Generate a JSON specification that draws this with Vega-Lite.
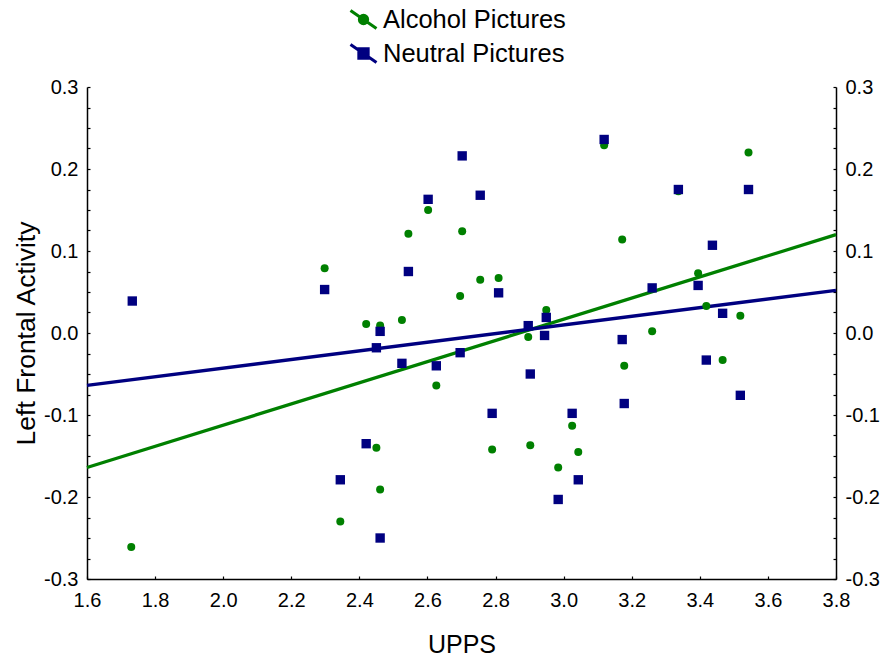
{
  "$schema": "https://vega.github.io/schema/vega-lite/v6.json",
  "width": 749,
  "height": 492,
  "autosize": "none",
  "padding": {"left": 87, "top": 87, "right": 47, "bottom": 79},
  "background": "white",
  "config": {
    "font": "Liberation Sans",
    "view": {"stroke": null},
    "axis": {
      "grid": false,
      "domainColor": "black",
      "domainWidth": 1.5,
      "tickColor": "black",
      "tickWidth": 1.2,
      "labelColor": "black",
      "labelFont": "Liberation Sans",
      "labelFontSize": 20,
      "titleFont": "Liberation Sans",
      "titleFontSize": 25,
      "titleFontWeight": "normal",
      "titleColor": "black"
    }
  },
  "datasets": {
    "points": [
      {"series": "Alcohol Pictures", "upps": 1.730, "lfa": -0.261},
      {"series": "Alcohol Pictures", "upps": 2.298, "lfa": 0.079},
      {"series": "Alcohol Pictures", "upps": 2.420, "lfa": 0.011},
      {"series": "Alcohol Pictures", "upps": 2.461, "lfa": 0.009},
      {"series": "Alcohol Pictures", "upps": 2.525, "lfa": 0.016},
      {"series": "Alcohol Pictures", "upps": 2.544, "lfa": 0.121},
      {"series": "Alcohol Pictures", "upps": 2.602, "lfa": 0.150},
      {"series": "Alcohol Pictures", "upps": 2.702, "lfa": 0.124},
      {"series": "Alcohol Pictures", "upps": 2.696, "lfa": 0.045},
      {"series": "Alcohol Pictures", "upps": 2.755, "lfa": 0.065},
      {"series": "Alcohol Pictures", "upps": 2.809, "lfa": 0.067},
      {"series": "Alcohol Pictures", "upps": 3.119, "lfa": 0.229},
      {"series": "Alcohol Pictures", "upps": 3.172, "lfa": 0.114},
      {"series": "Alcohol Pictures", "upps": 3.337, "lfa": 0.173},
      {"series": "Alcohol Pictures", "upps": 3.543, "lfa": 0.220},
      {"series": "Alcohol Pictures", "upps": 3.395, "lfa": 0.073},
      {"series": "Alcohol Pictures", "upps": 3.419, "lfa": 0.033},
      {"series": "Alcohol Pictures", "upps": 3.519, "lfa": 0.021},
      {"series": "Alcohol Pictures", "upps": 2.949, "lfa": 0.028},
      {"series": "Alcohol Pictures", "upps": 3.260, "lfa": 0.002},
      {"series": "Alcohol Pictures", "upps": 2.896, "lfa": -0.005},
      {"series": "Alcohol Pictures", "upps": 3.178, "lfa": -0.040},
      {"series": "Alcohol Pictures", "upps": 3.467, "lfa": -0.033},
      {"series": "Alcohol Pictures", "upps": 2.626, "lfa": -0.064},
      {"series": "Alcohol Pictures", "upps": 2.450, "lfa": -0.140},
      {"series": "Alcohol Pictures", "upps": 2.461, "lfa": -0.191},
      {"series": "Alcohol Pictures", "upps": 2.344, "lfa": -0.230},
      {"series": "Alcohol Pictures", "upps": 2.790, "lfa": -0.142},
      {"series": "Alcohol Pictures", "upps": 2.902, "lfa": -0.137},
      {"series": "Alcohol Pictures", "upps": 3.025, "lfa": -0.113},
      {"series": "Alcohol Pictures", "upps": 3.043, "lfa": -0.145},
      {"series": "Alcohol Pictures", "upps": 2.984, "lfa": -0.164},
      {"series": "Neutral Pictures", "upps": 1.733, "lfa": 0.039},
      {"series": "Neutral Pictures", "upps": 2.298, "lfa": 0.053},
      {"series": "Neutral Pictures", "upps": 2.544, "lfa": 0.075},
      {"series": "Neutral Pictures", "upps": 2.602, "lfa": 0.163},
      {"series": "Neutral Pictures", "upps": 2.702, "lfa": 0.216},
      {"series": "Neutral Pictures", "upps": 2.755, "lfa": 0.168},
      {"series": "Neutral Pictures", "upps": 2.809, "lfa": 0.049},
      {"series": "Neutral Pictures", "upps": 3.119, "lfa": 0.236},
      {"series": "Neutral Pictures", "upps": 3.337, "lfa": 0.175},
      {"series": "Neutral Pictures", "upps": 3.543, "lfa": 0.175},
      {"series": "Neutral Pictures", "upps": 3.437, "lfa": 0.107},
      {"series": "Neutral Pictures", "upps": 3.260, "lfa": 0.055},
      {"series": "Neutral Pictures", "upps": 3.395, "lfa": 0.058},
      {"series": "Neutral Pictures", "upps": 3.467, "lfa": 0.024},
      {"series": "Neutral Pictures", "upps": 2.896, "lfa": 0.009},
      {"series": "Neutral Pictures", "upps": 2.949, "lfa": 0.019},
      {"series": "Neutral Pictures", "upps": 2.461, "lfa": 0.002},
      {"series": "Neutral Pictures", "upps": 2.450, "lfa": -0.018},
      {"series": "Neutral Pictures", "upps": 2.525, "lfa": -0.037},
      {"series": "Neutral Pictures", "upps": 2.626, "lfa": -0.040},
      {"series": "Neutral Pictures", "upps": 2.696, "lfa": -0.024},
      {"series": "Neutral Pictures", "upps": 2.944, "lfa": -0.003},
      {"series": "Neutral Pictures", "upps": 3.172, "lfa": -0.008},
      {"series": "Neutral Pictures", "upps": 3.419, "lfa": -0.033},
      {"series": "Neutral Pictures", "upps": 2.902, "lfa": -0.050},
      {"series": "Neutral Pictures", "upps": 3.178, "lfa": -0.086},
      {"series": "Neutral Pictures", "upps": 3.519, "lfa": -0.076},
      {"series": "Neutral Pictures", "upps": 2.790, "lfa": -0.098},
      {"series": "Neutral Pictures", "upps": 3.025, "lfa": -0.098},
      {"series": "Neutral Pictures", "upps": 3.043, "lfa": -0.179},
      {"series": "Neutral Pictures", "upps": 2.984, "lfa": -0.203},
      {"series": "Neutral Pictures", "upps": 2.420, "lfa": -0.135},
      {"series": "Neutral Pictures", "upps": 2.344, "lfa": -0.179},
      {"series": "Neutral Pictures", "upps": 2.461, "lfa": -0.250}
    ],
    "fits": [
      {"series": "Alcohol Pictures", "upps": 1.6, "lfa": -0.164},
      {"series": "Alcohol Pictures", "upps": 3.8, "lfa": 0.120},
      {"series": "Neutral Pictures", "upps": 1.6, "lfa": -0.064},
      {"series": "Neutral Pictures", "upps": 3.8, "lfa": 0.052}
    ]
  },
  "resolve": {"scale": {"y": "shared"}, "axis": {"y": "independent"}},
  "layer": [
    {
      "data": {"name": "fits"},
      "mark": {"type": "line", "strokeWidth": 3.3},
      "encoding": {
        "x": {
          "field": "upps", "type": "quantitative",
          "scale": {"domain": [1.6, 3.8], "nice": false, "zero": false},
          "axis": {
            "title": "UPPS",
            "values": [1.6, 1.7, 1.8, 1.9, 2.0, 2.1, 2.2, 2.3, 2.4, 2.5, 2.6, 2.7, 2.8, 2.9, 3.0, 3.1, 3.2, 3.3, 3.4, 3.5, 3.6, 3.7, 3.8],
            "labelExpr": "round(datum.value*10) % 2 == 0 ? format(datum.value, '.1f') : ''",
            "tickSize": -3,
            "labelPadding": 14,
            "labelFlush": false,
            "labelOverlap": false,
            "titlePadding": 22
          }
        },
        "y": {
          "field": "lfa", "type": "quantitative",
          "scale": {"domain": [-0.3, 0.3], "nice": false, "zero": false},
          "axis": {
            "title": "Left Frontal Activity",
            "titleFontSize": 26.5,
            "orient": "left",
            "values": [-0.3, -0.275, -0.25, -0.225, -0.2, -0.175, -0.15, -0.125, -0.1, -0.075, -0.05, -0.025, 0, 0.025, 0.05, 0.075, 0.1, 0.125, 0.15, 0.175, 0.2, 0.225, 0.25, 0.275, 0.3],
            "labelExpr": "abs(round(datum.value*40)) % 4 == 0 ? (datum.value < -0.001 ? '-' : '') + format(abs(datum.value), '.1f') : ''",
            "tickSize": -3,
            "labelPadding": 12,
            "labelFlush": false,
            "labelOverlap": false,
            "titlePadding": 3
          }
        },
        "color": {
          "field": "series", "type": "nominal",
          "scale": {"domain": ["Alcohol Pictures", "Neutral Pictures"], "range": ["#008000", "#000080"]},
          "legend": {
            "title": null,
            "orient": "none",
            "legendX": 262,
            "legendY": -82,
            "direction": "vertical",
            "padding": 0,
            "labelFont": "Liberation Sans",
            "labelFontSize": 25.5,
            "labelColor": "black",
            "labelLimit": 0,
            "labelOffset": 5,
            "rowPadding": 3,
            "symbolSize": 676,
            "symbolStrokeWidth": 3,
            "encode": {
              "symbols": {
                "update": {
                  "shape": {"signal": "datum.value === 'Alcohol Pictures' ? 'M-1,-0.7L1,0.7M-0.32,0A0.32,0.32,0,1,0,0.32,0A0.32,0.32,0,1,0,-0.32,0Z' : 'M-1,-0.7L1,0.7M-0.36,-0.36L0.36,-0.36L0.36,0.36L-0.36,0.36Z'"},
                  "fill": {"scale": "color", "field": "value"},
                  "stroke": {"scale": "color", "field": "value"},
                  "strokeWidth": {"value": 3},
                  "opacity": {"value": 1}
                }
              }
            }
          }
        }
      }
    },
    {
      "data": {"name": "points"},
      "transform": [{"filter": "datum.series === 'Alcohol Pictures'"}],
      "mark": {"type": "circle", "size": 64, "opacity": 1, "color": "#008000"},
      "encoding": {
        "x": {"field": "upps", "type": "quantitative"},
        "y": {"field": "lfa", "type": "quantitative", "axis": null}
      }
    },
    {
      "data": {"name": "points"},
      "transform": [{"filter": "datum.series === 'Neutral Pictures'"}],
      "mark": {"type": "square", "size": 88, "opacity": 1, "filled": true, "color": "#000080"},
      "encoding": {
        "x": {"field": "upps", "type": "quantitative"},
        "y": {
          "field": "lfa", "type": "quantitative",
          "axis": {
            "title": null,
            "orient": "right",
            "values": [-0.3, -0.275, -0.25, -0.225, -0.2, -0.175, -0.15, -0.125, -0.1, -0.075, -0.05, -0.025, 0, 0.025, 0.05, 0.075, 0.1, 0.125, 0.15, 0.175, 0.2, 0.225, 0.25, 0.275, 0.3],
            "labelExpr": "abs(round(datum.value*40)) % 4 == 0 ? (datum.value < -0.001 ? '-' : '') + format(abs(datum.value), '.1f') : ''",
            "tickSize": -3,
            "labelPadding": 12,
            "labelFlush": false,
            "labelOverlap": false
          }
        }
      }
    }
  ]
}
